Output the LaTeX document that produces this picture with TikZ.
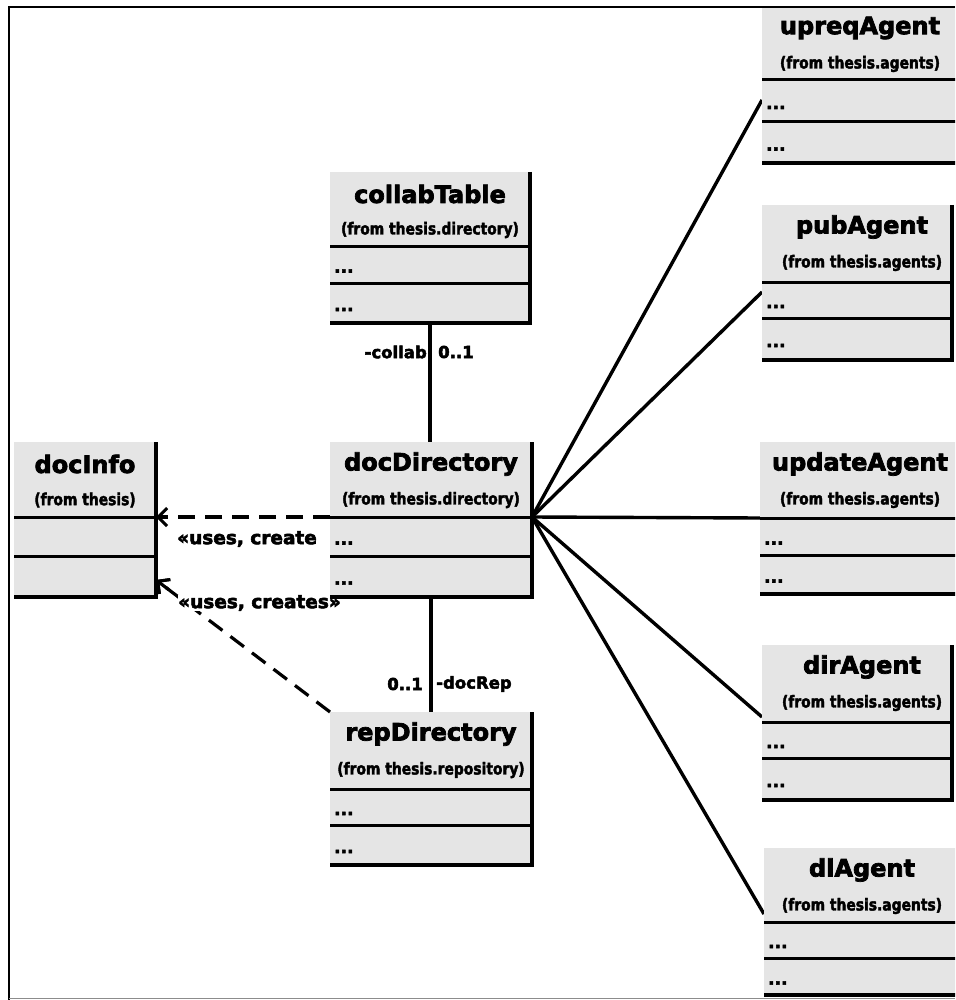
\documentclass[tikz,border=0pt]{standalone}
\usepackage{fontspec}
\setmainfont{DejaVu Sans}[BoldFeatures={FakeBold=3}]
\newfontfamily\fromfont{DejaVu Sans}[FakeStretch=0.84, BoldFeatures={FakeBold=2.4}]
\usetikzlibrary{arrows.meta,fit,calc}
\pgfdeclarelayer{paper}
\pgfdeclarelayer{bg}
\pgfsetlayers{paper,bg,main}
\tikzset{
  classfill/.style={fill=black!10},
  edgeline/.style={line width=3.2pt},
  sepline/.style={line width=3pt},
  titletxt/.style={font=\bfseries\fontsize{24}{24}\selectfont, inner sep=0pt},
  fromtxt/.style={font=\fromfont\bfseries\fontsize{16.5}{16.5}\selectfont, inner sep=0pt},
  dotstxt/.style={font=\bfseries\fontsize{17}{17}\selectfont, inner sep=0pt, anchor=base west},
  lbl/.style={font=\bfseries\fontsize{16.5}{16.5}\selectfont, inner sep=0pt},
  useslbl/.style={font=\bfseries\fontsize{18.5}{18.5}\selectfont, inner sep=0pt},
  conn/.style={line width=3.4pt},
  barbtip/.style={-{Straight Barb[length=9pt,width=18pt,line width=3pt]}},
  dep/.style={line width=3.2pt, dash pattern=on 17pt off 10pt, barbtip},
}
% name, x1, x2, cx, top, sep1, sep2, bottom, title
\newcommand\umlclass[9]{%
  \path[classfill] (#2,#5) rectangle (#3,#8);
  \coordinate (#1-nw) at (#2,#5);
  \coordinate (#1-se) at (#3,#8);
  \node[inner sep=0pt, outer sep=0pt, fit=(#1-nw)(#1-se)] (#1) {};
  \coordinate (#1-s1w) at (#2,#6);
  \coordinate (#1-s1e) at (#3,#6);
  \coordinate (#1-f) at (#4,#5+58);
  \coordinate (#1-d1c) at (#2+4,{(#6+#7)/2+8});
  \coordinate (#1-d2c) at (#2+4,{(#7+#8)/2+8});
  \draw[sepline] (#2,#6) -- (#3,#6);
  \draw[sepline] (#2,#7) -- (#3,#7);
  \draw[edgeline] (#3,#5) -- (#3,#8) -- (#2,#8);
  \node[titletxt] (#1-title) at (#4,#5+22) {#9};
}
\newcommand\umlfrom[2]{\node[fromtxt] (#1-from) at (#1-f) {(from #2)};}
\newcommand\umldots[1]{%
  \node[dotstxt] (#1-dots1) at (#1-d1c) {...};
  \node[dotstxt] (#1-dots2) at (#1-d2c) {...};}
\begin{document}
\begin{tikzpicture}[x=1pt,y=-1pt]
  \clip (0,0) rectangle (955,1000);
  \useasboundingbox (0,0) rectangle (955,1000);
  \begin{pgfonlayer}{paper}
    \fill[white] (0,0) rectangle (955,1000);
  \end{pgfonlayer}

  % central column
  \umlclass{ct}{330}{530}{430}{172}{246}{283}{323}{collabTable}
  \umlfrom{ct}{thesis.directory}
  \umldots{ct}
  \umlclass{dd}{330}{532}{431}{442}{517}{556}{597}{docDirectory}
  \umlfrom{dd}{thesis.directory}
  \umldots{dd}
  \umlclass{rep}{330}{532}{431}{712}{789}{825}{865}{repDirectory}
  \umlfrom{rep}{thesis.repository}
  \umldots{rep}
  % left
  \umlclass{di}{14}{156}{85}{442}{517}{556}{597}{docInfo}
  \umlfrom{di}{thesis}
  % agents
  \umlclass{up}{762}{962}{860}{6}{80}{122}{163}{upreqAgent}
  \umlfrom{up}{thesis.agents}
  \umldots{up}
  \umlclass{pub}{762}{952}{862}{205}{282}{318}{360}{pubAgent}
  \umlfrom{pub}{thesis.agents}
  \umldots{pub}
  \umlclass{upd}{760}{962}{860}{442}{518}{555}{594}{updateAgent}
  \umlfrom{upd}{thesis.agents}
  \umldots{upd}
  \umlclass{dir}{762}{952}{862}{645}{722}{758}{800}{dirAgent}
  \umlfrom{dir}{thesis.agents}
  \umldots{dir}
  \umlclass{dl}{764}{962}{862}{848}{922}{958}{995}{dlAgent}
  \umlfrom{dl}{thesis.agents}
  \umldots{dl}

  \coordinate (di-in2) at ([yshift=-63pt]di-s1e);
  \begin{pgfonlayer}{bg}
    % associations
    \draw[conn] (ct.south) -- (ct.south |- dd.north);
    \draw[conn] (dd.south) -- (dd.south |- rep.north);
    \draw[conn] (dd-s1e) -- ([yshift=-20pt]up-s1w);
    \draw[conn] (dd-s1e) -- ([yshift=-10pt]pub-s1w);
    \draw[conn] (dd-s1e) -- (upd-s1w);
    \draw[conn] (dd-s1e) -- ([yshift=5pt]dir-s1w);
    \draw[conn] (dd-s1e) -- ([yshift=8pt]dl-s1w);
    % dependencies
    \draw[dep] (dd-s1w) -- (di-s1e);
    \draw[dep] (rep.north west) -- (di-in2);
    \node[useslbl, anchor=west] (lab1) at (177,539) {«uses, create};
    \node[useslbl, anchor=west, fill=white] (lab2) at (178,603) {«uses, creates»};
    \draw[line width=3.2pt, barbtip] ($(di-in2)!16pt!(rep.north west)$) -- (di-in2);
    % multiplicities and roles
    \node[lbl, anchor=east] (m1) at (427,352) {-collab};
    \node[lbl, anchor=west] (m2) at (438,352) {0..1};
    \node[lbl, anchor=east] (m3) at (423,684) {0..1};
    \node[lbl, anchor=west] (m4) at (436,684) {-docRep};
  \end{pgfonlayer}

  % outer frame
  \draw[line width=2.5pt] (9,1000) -- (9,7) -- (955,7);
  \draw[black!45, line width=1pt] (9,998) -- (955,998);
\end{tikzpicture}
\end{document}
